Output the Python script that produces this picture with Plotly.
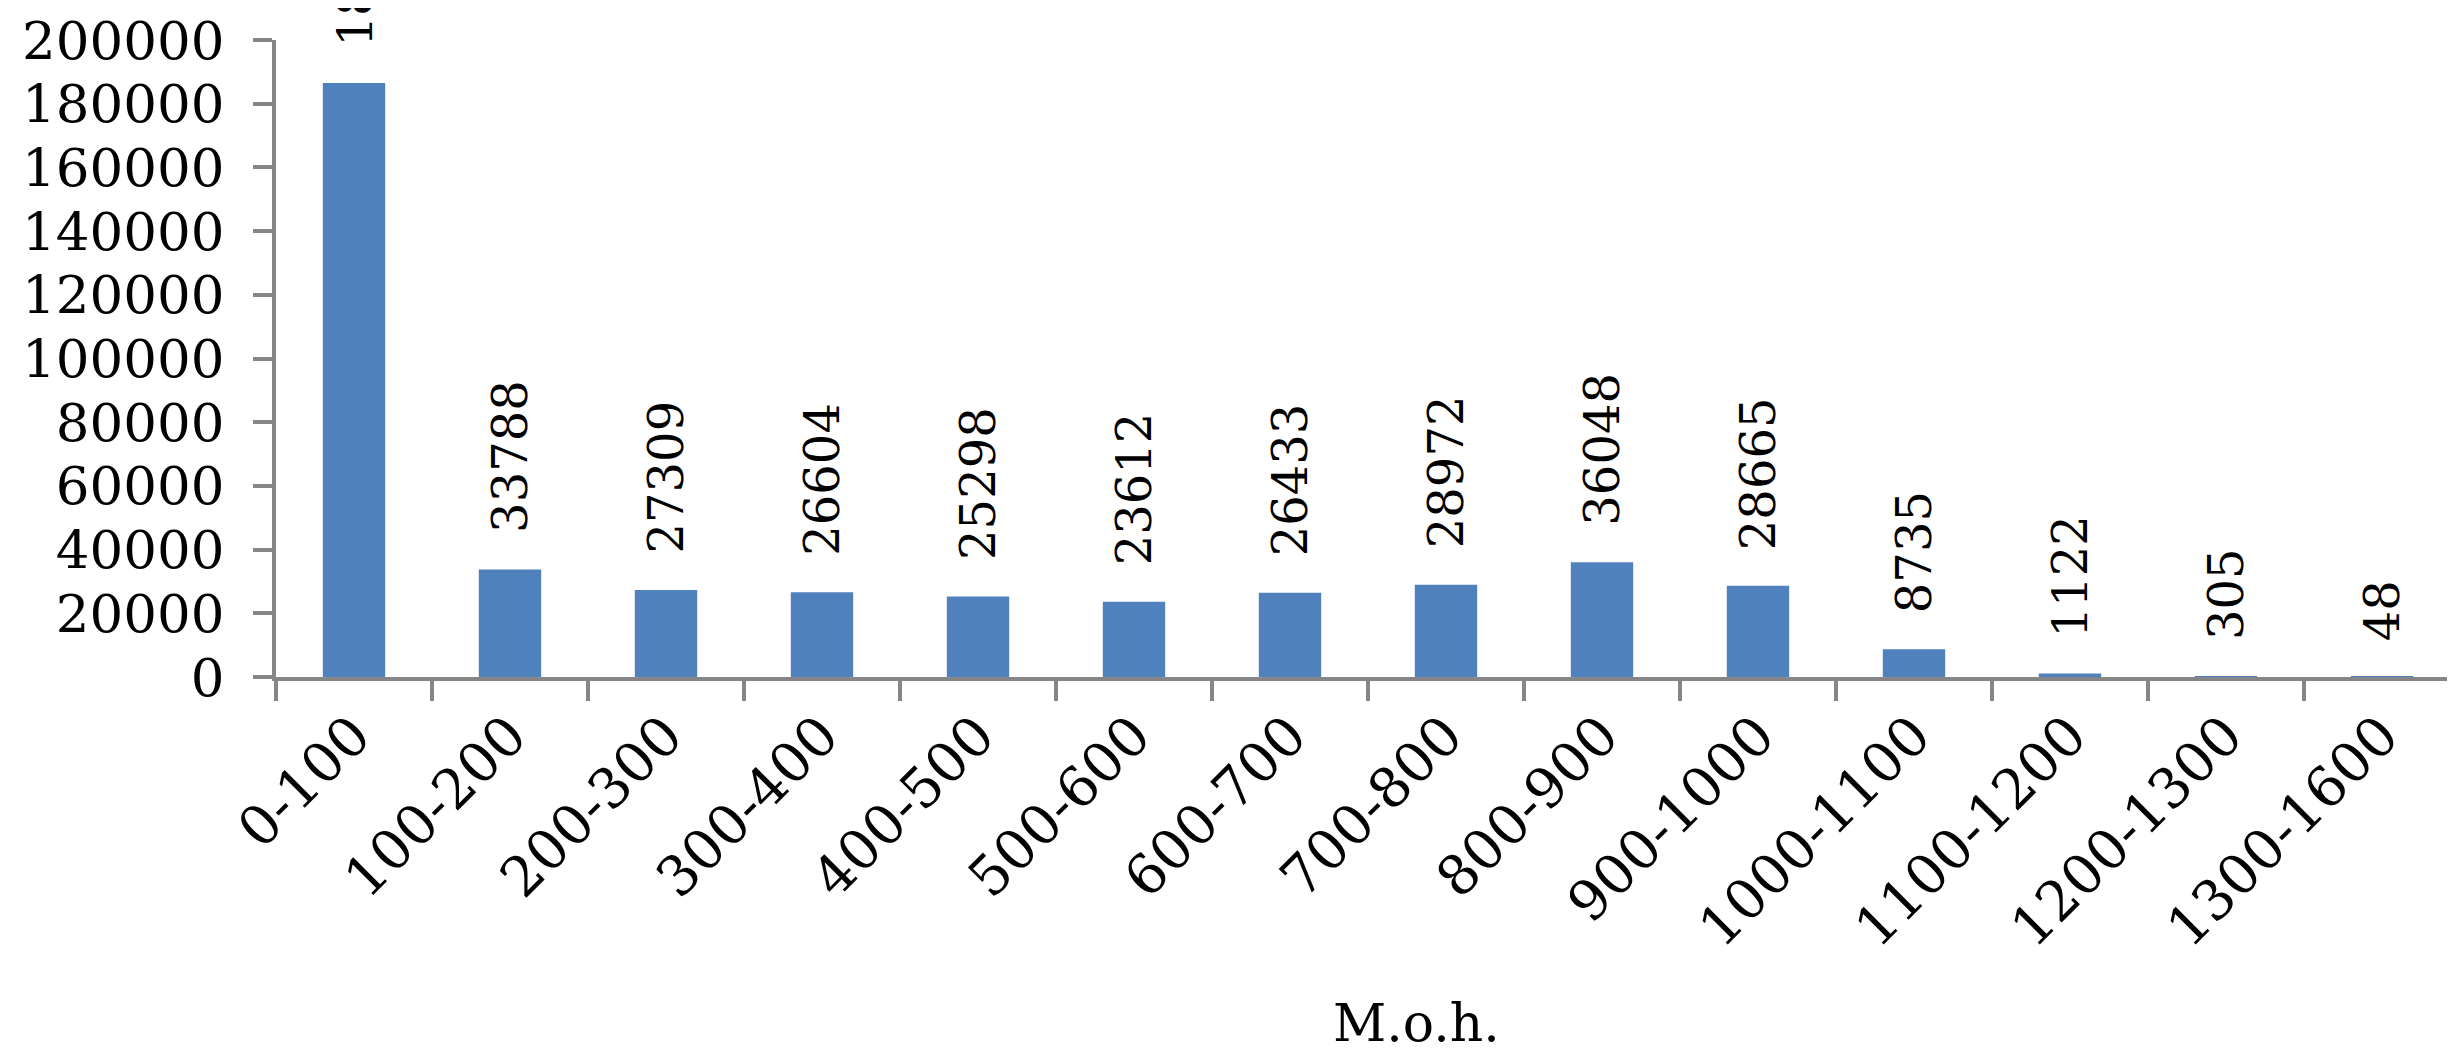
import plotly.graph_objects as go

# height classes (m a.s.l.) and counts
categories = ["0-100", "100-200", "200-300", "300-400", "400-500", "500-600",
              "600-700", "700-800", "800-900", "900-1000", "1000-1100",
              "1100-1200", "1200-1300", "1300-1600"]
counts = [186500, 33788, 27309, 26604, 25298, 23612, 26433, 28972, 36048,
          28665, 8735, 1122, 305, 48]
y_ticks = list(range(0, 200001, 20000))
x_title = "M.o.h."

BAR_BLUE = "#4F81BD"
AXIS_GREY = "#868686"
FONT = "DejaVu Serif"

fig = go.Figure()
fig.add_trace(
    go.Bar(
        x=categories,
        y=counts,
        marker={"color": BAR_BLUE, "line": {"width": 0}},
        showlegend=False,
    )
)

# rotated data labels sitting above each bar
for cat, val in zip(categories, counts):
    fig.add_annotation(
        x=cat, y=val, text=str(val), textangle=-90,
        showarrow=False, xanchor="center", yanchor="bottom", yshift=34,
        font={"family": FONT, "size": 48, "color": "black"},
    )

fig.add_annotation(
    text=x_title, xref="paper", yref="paper", x=0.5232, y=-0.594,
    xanchor="center", yanchor="bottom", showarrow=False,
    font={"family": FONT, "size": 52, "color": "black"},
)

# page body adds ~8px offset, so the figure is slightly smaller than the window
fig.update_layout(
    width=2447,
    height=1047,
    margin={"l": 268, "r": 0, "t": 32, "b": 378},
    paper_bgcolor="white",
    plot_bgcolor="white",
    bargap=0.6,
    font={"family": FONT, "size": 53, "color": "black"},
    xaxis={
        "range": [-0.5, 13.468],
        "showline": True, "linecolor": AXIS_GREY, "linewidth": 4,
        "ticks": "outside", "tickson": "boundaries", "ticklen": 20,
        "tickwidth": 4, "tickcolor": AXIS_GREY, "tickangle": -45,
        "showgrid": False, "zeroline": False,
        "tickfont": {"family": FONT, "size": 55},
    },
    yaxis={
        "range": [0, 200000],
        "tickvals": y_ticks, "tickformat": "d",
        "showline": True, "linecolor": AXIS_GREY, "linewidth": 4,
        "ticks": "outside", "ticklen": 19, "tickwidth": 4,
        "tickcolor": AXIS_GREY, "ticklabelstandoff": 18,
        "showgrid": False, "zeroline": False,
        "tickfont": {"family": FONT, "size": 53},
    },
)

fig.write_html("out.html")
